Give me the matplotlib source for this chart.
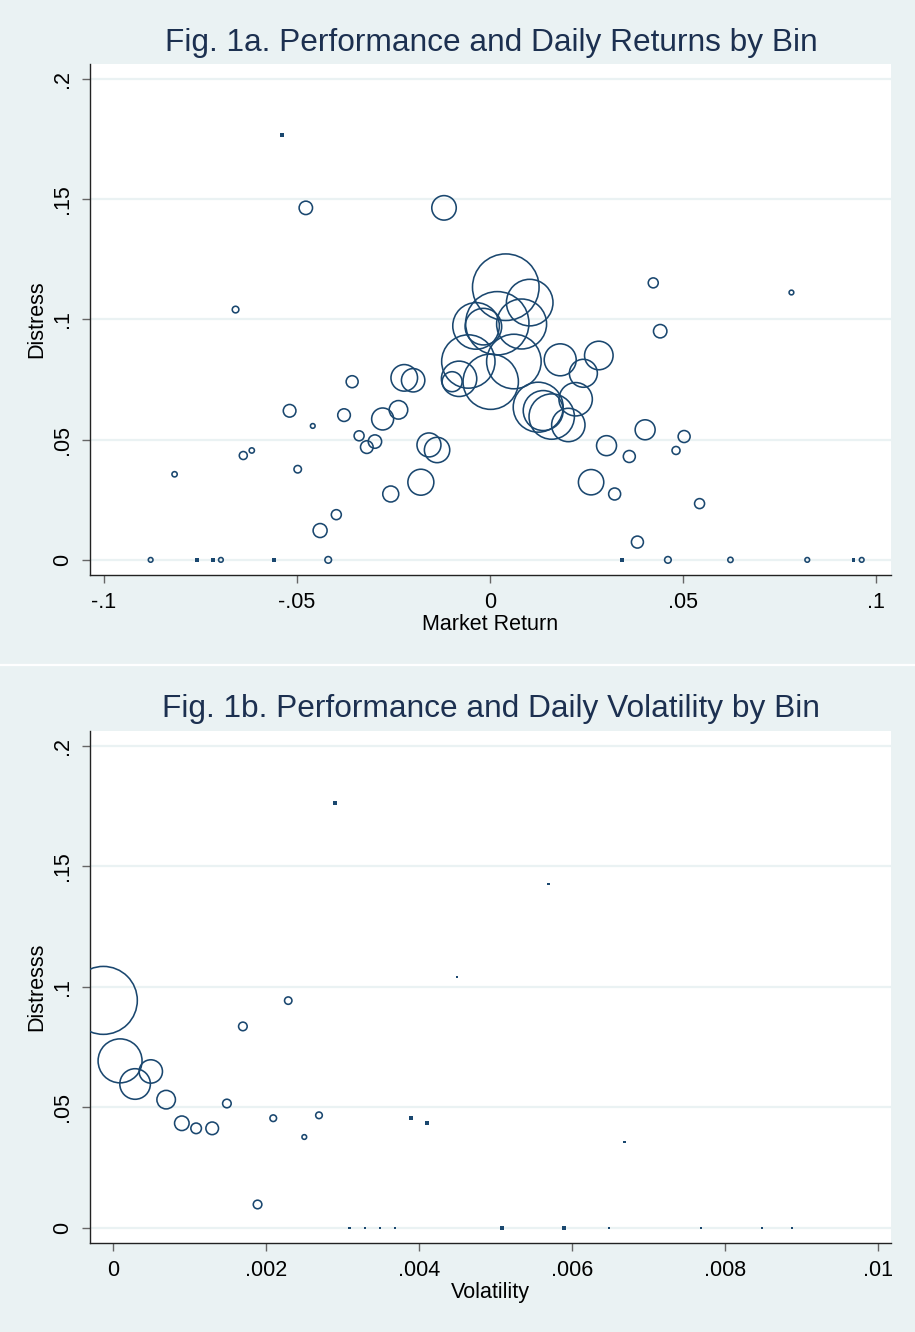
import numpy as np
import matplotlib.pyplot as plt
from matplotlib.lines import Line2D

# --- Fig. 1a: market return vs distress, bubble = bin weight ---
ret_a = [-0.0477, -0.0119, -0.0659, -0.0357, -0.0222, -0.0199, -0.0098, -0.0080,
         -0.0519, -0.0378, -0.0459, -0.0278, -0.0237, -0.0339, -0.0298, -0.0319,
         -0.0158, -0.0137, -0.0639, -0.0617, -0.0498, -0.0817, -0.0179, -0.0257,
         -0.0398, -0.0440, -0.0879, -0.0697, -0.0419,
         0.0041, 0.0103, 0.0019, -0.0036, -0.0017, 0.0082, -0.0056, 0.0062,
         0.0002, 0.0182, 0.0282, 0.0242, 0.0222, 0.0125, 0.0138, 0.0160,
         0.0203, 0.0402, 0.0302, 0.0503, 0.0482, 0.0361, 0.0262, 0.0323,
         0.0543, 0.0382, 0.0423, 0.0441, 0.0781, 0.0461, 0.0623, 0.0822, 0.0963,
         -0.0539, -0.0759, -0.0718, -0.0559, 0.0342, 0.0942]
dist_a = [0.1464, 0.1464, 0.1041, 0.0741, 0.0757, 0.0747, 0.0741, 0.0753,
          0.0620, 0.0602, 0.0557, 0.0586, 0.0624, 0.0516, 0.0492, 0.0469,
          0.0478, 0.0457, 0.0434, 0.0455, 0.0377, 0.0356, 0.0323, 0.0274,
          0.0188, 0.0122, 0.0, 0.0, 0.0,
          0.1134, 0.1070, 0.0984, 0.0973, 0.0970, 0.0981, 0.0825, 0.0825,
          0.0741, 0.0832, 0.0850, 0.0776, 0.0668, 0.0635, 0.0621, 0.0596,
          0.0561, 0.0541, 0.0475, 0.0513, 0.0455, 0.0430, 0.0323, 0.0274,
          0.0234, 0.0074, 0.1152, 0.0951, 0.1112, 0.0, 0.0, 0.0, 0.0,
          0.1767, 0.0, 0.0, 0.0, 0.0, 0.0]
weight_a = [45, 150, 11, 36, 177, 137, 100, 313,
            40, 40, 5.5, 121, 86, 25, 45, 40,
            144, 161, 16, 7, 14, 7, 169, 64,
            25, 49, 5.5, 5.5, 11,
            1110, 543, 1005, 543, 335, 625, 713, 745,
            767, 256, 204, 196, 279, 625, 400, 515,
            279, 100, 100, 36, 16, 36, 161, 36,
            25, 36, 25, 45, 5.5, 11, 7, 5.5, 5.5,
            3.5, 3.5, 3.5, 3.5, 3.5, 3.5]

# --- Fig. 1b: daily volatility vs distress ---
vol_b = [-0.000127, 0.0000916, 0.000288, 0.000493, 0.000694, 0.000899, 0.001086,
         0.001296, 0.001488, 0.001697, 0.00229, 0.002094, 0.0025, 0.002692, 0.001889,
         0.002897, 0.003896, 0.004106, 0.005088, 0.005892,
         0.004498, 0.005693, 0.006685, 0.00309, 0.00329, 0.00349, 0.00369,
         0.006481, 0.007682, 0.00848, 0.00888]
dist_b = [0.0944, 0.0693, 0.0597, 0.0649, 0.0532, 0.0434, 0.0413,
          0.0413, 0.0516, 0.0836, 0.0943, 0.0455, 0.0377, 0.0467, 0.0097,
          0.1762, 0.0455, 0.0434, 0.0, 0.0,
          0.1042, 0.1426, 0.0356, 0.0, 0.0, 0.0, 0.0,
          0.0, 0.0, 0.0, 0.0]
weight_b = [1156, 484, 234, 137, 86, 53, 28,
            40, 18.5, 18.5, 13.7, 11, 5.5, 11, 18.5,
            3.5, 3.5, 3.5, 3.5, 3.5,
            1.2, 1.2, 1.2, 1.2, 1.2, 1.2, 1.2,
            1.2, 1.2, 1.2, 1.2]

yticks = [0, 0.05, 0.1, 0.15, 0.2]
ytick_labels = ["0", ".05", ".1", ".15", ".2"]
xticks_a = [-0.1, -0.05, 0, 0.05, 0.1]
xtick_labels_a = ["-.1", "-.05", "0", ".05", ".1"]
xticks_b = [0, 0.002, 0.004, 0.006, 0.008, 0.01]
xtick_labels_b = ["0", ".002", ".004", ".006", ".008", ".01"]

BG = "#eaf2f3"
NAVY = "#1a476f"
plt.rcParams["font.family"] = ["Liberation Sans", "DejaVu Sans"]

fig = plt.figure(figsize=(9.15, 13.32), dpi=100, facecolor=BG)


def bubbles(ax, x, y, w):
    x, y, w = np.asarray(x), np.asarray(y), np.asarray(w, dtype=float)
    s = 2.07 * w
    big = w >= 5
    ax.scatter(x[big], y[big], s=s[big], facecolors="none", edgecolors=NAVY,
               linewidths=1.15, zorder=3)
    ax.scatter(x[~big], y[~big], s=s[~big], marker="s", color=NAVY,
               linewidths=0, zorder=3)


def style(ax, xticks, xlabels, xlim, xlabel, ylabel):
    ax.set_facecolor("white")
    ax.set_xlim(*xlim)
    ax.set_ylim(-0.0063, 0.2062)
    ax.set_yticks(yticks)
    ax.set_yticklabels(ytick_labels, rotation=90, va="center")
    ax.set_xticks(xticks)
    ax.set_xticklabels(xlabels)
    ax.grid(axis="y", color=BG, linewidth=1.6)
    ax.set_axisbelow(True)
    for side in ["top", "right"]:
        ax.spines[side].set_visible(False)
    for side in ["left", "bottom"]:
        ax.spines[side].set_color("#222222")
        ax.spines[side].set_linewidth(1.0)
    ax.tick_params(length=6, width=1.0, color="#666666", labelsize=15.5,
                   pad=6, labelcolor="black")
    ax.set_xlabel(xlabel, fontsize=15.5, labelpad=1)
    ax.set_ylabel(ylabel, fontsize=15.5, labelpad=4)


ax1 = fig.add_axes([0.0984, 0.5683, 0.8754, 0.3836])
bubbles(ax1, ret_a, dist_a, weight_a)
style(ax1, xticks_a, xtick_labels_a, (-0.1036, 0.1039), "Market Return", "Distress")
fig.text(0.537, 0.968, "Fig. 1a. Performance and Daily Returns by Bin",
         ha="center", va="center", fontsize=22.8, color="#1c3050")

ax2 = fig.add_axes([0.0984, 0.0668, 0.8754, 0.3844])
bubbles(ax2, vol_b, dist_b, weight_b)
style(ax2, xticks_b, xtick_labels_b, (-0.000301, 0.01017), "Volatility", "Distresss")
fig.text(0.537, 0.4675, "Fig. 1b. Performance and Daily Volatility by Bin",
         ha="center", va="center", fontsize=22.8, color="#1c3050")

# white separator between the two graphs
fig.add_artist(Line2D([0, 1], [1 - 665 / 1332] * 2, color="white", linewidth=1.6,
                      transform=fig.transFigure))

fig.savefig("out.png", dpi=100, facecolor=BG)
